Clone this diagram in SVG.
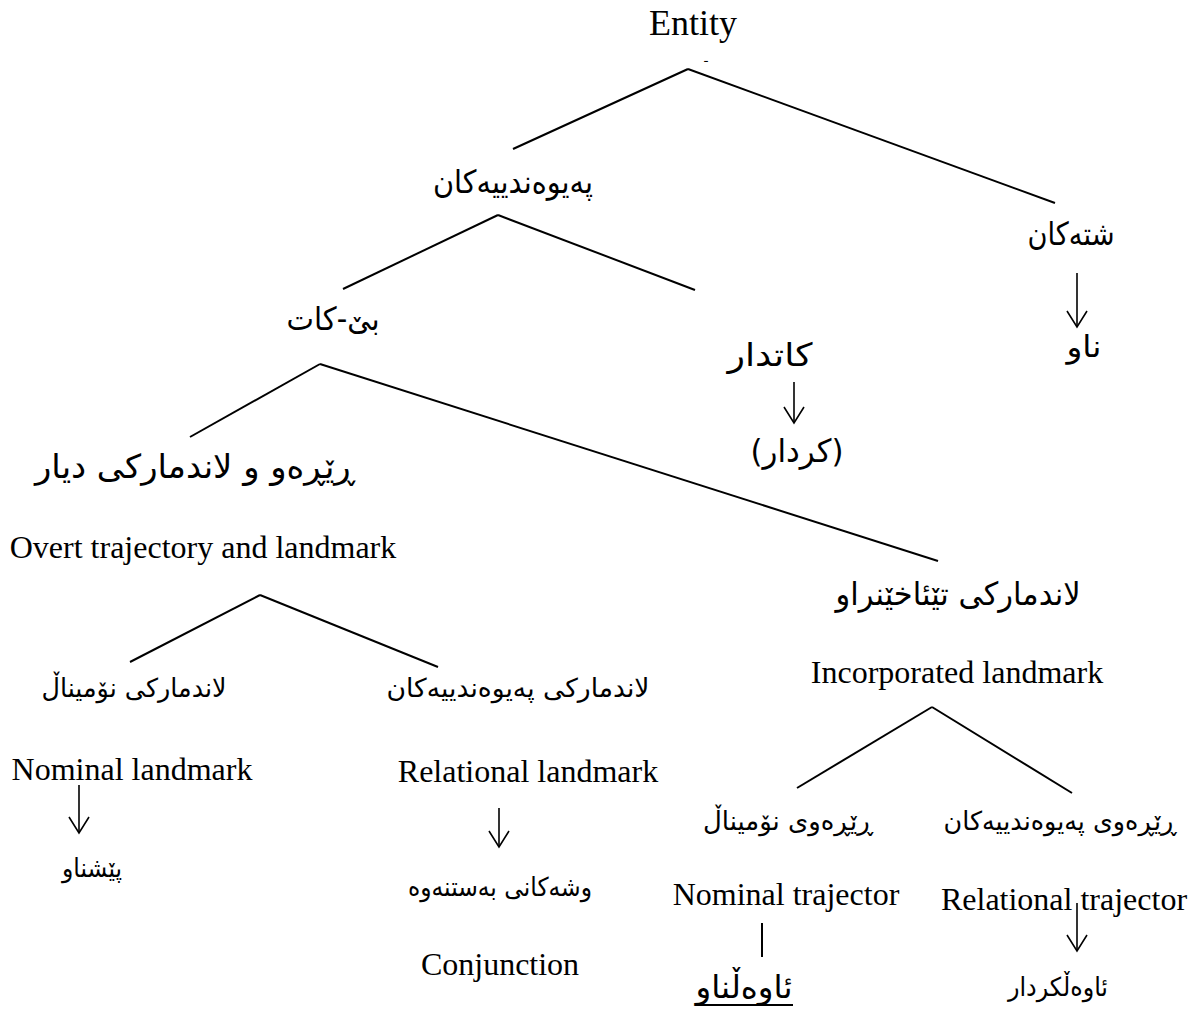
<svg xmlns="http://www.w3.org/2000/svg" width="1202" height="1014" viewBox="0 0 1202 1014">
<style>
.en{font-family:"Liberation Serif","Times New Roman",serif;font-size:32px;fill:#000;text-anchor:middle}
.ku{font-family:"DejaVu Sans","Noto Sans",sans-serif;fill:#000;text-anchor:middle}
.ln{stroke:#000;stroke-width:2;fill:none}
.ar{stroke:#000;stroke-width:1.6;fill:none;marker-end:url(#ah)}
</style>
<defs>
<marker id="ah" viewBox="-18 -12 20 24" markerWidth="20" markerHeight="24" refX="0" refY="0" orient="auto" markerUnits="userSpaceOnUse">
<path d="M-16,-10 L0,0 L-16,10" fill="none" stroke="#000" stroke-width="1.6"/>
</marker>
</defs>
<rect width="1202" height="1014" fill="#fff"/>
<g id="connectors">
<line class="ln" x1="688" y1="69" x2="513" y2="149"/>
<line class="ln" x1="688" y1="69" x2="1055" y2="203"/>
<line class="ln" x1="498" y1="215" x2="343" y2="289"/>
<line class="ln" x1="498" y1="215" x2="695" y2="290"/>
<line class="ln" x1="320" y1="364" x2="190" y2="437"/>
<line class="ln" x1="320" y1="364" x2="938" y2="561"/>
<line class="ln" x1="260" y1="595" x2="130" y2="662"/>
<line class="ln" x1="260" y1="595" x2="438" y2="667"/>
<line class="ln" x1="932" y1="707" x2="797" y2="788"/>
<line class="ln" x1="932" y1="707" x2="1072" y2="793"/>
<line class="ar" x1="1077" y1="273" x2="1077" y2="327"/>
<line class="ar" x1="794" y1="382" x2="794" y2="423"/>
<line class="ar" x1="79" y1="785" x2="79" y2="833"/>
<line class="ar" x1="499" y1="808" x2="499" y2="847"/>
<line class="ar" x1="1077" y1="903" x2="1077" y2="951"/>
<line class="ln" x1="762" y1="923" x2="762" y2="957" stroke-width="1.6"/>
</g>
<g id="entity">
<text class="en" x="693" y="35" font-size="36" style="font-size:36px">Entity</text>
<text class="ku" x="706" y="62" font-size="12">ـ</text>
</g>
<g id="relations"><text class="ku" x="513" y="193" font-size="32" textLength="160" lengthAdjust="spacingAndGlyphs">پەیوەندییەکان</text></g>
<g id="things"><text class="ku" x="1071" y="245" font-size="32" textLength="87" lengthAdjust="spacingAndGlyphs">شتەکان</text></g>
<g id="noun"><text class="ku" x="1084" y="357" font-size="30" textLength="35" lengthAdjust="spacingAndGlyphs">ناو</text></g>
<g id="atemporal"><text class="ku" x="333" y="330" font-size="32" textLength="93" lengthAdjust="spacingAndGlyphs">بێ-کات</text></g>
<g id="temporal"><text class="ku" x="770" y="366" font-size="32" textLength="85" lengthAdjust="spacingAndGlyphs">کاتدار</text></g>
<g id="verb"><text class="ku" x="797" y="462" font-size="32" textLength="93" lengthAdjust="spacingAndGlyphs">(کردار)</text></g>
<g id="overt">
<text class="ku" x="195" y="478" font-size="33" textLength="320" lengthAdjust="spacingAndGlyphs">ڕێڕەو و لاندمارکی دیار</text>
<text class="en" x="203" y="558">Overt trajectory and landmark</text>
</g>
<g id="incorporated">
<text class="ku" x="958" y="605" font-size="32" textLength="245" lengthAdjust="spacingAndGlyphs">لاندمارکی تێئاخێنراو</text>
<text class="en" x="957" y="683">Incorporated landmark</text>
</g>
<g id="nominal-landmark">
<text class="ku" x="134" y="697" font-size="26" textLength="185" lengthAdjust="spacingAndGlyphs">لاندمارکی نۆمیناڵ</text>
<text class="en" x="132" y="780">Nominal landmark</text>
</g>
<g id="preposition"><text class="ku" x="92" y="877" font-size="26" textLength="60" lengthAdjust="spacingAndGlyphs">پێشناو</text></g>
<g id="relational-landmark">
<text class="ku" x="518" y="697" font-size="26" textLength="263" lengthAdjust="spacingAndGlyphs">لاندمارکی پەیوەندییەکان</text>
<text class="en" x="528" y="782">Relational landmark</text>
</g>
<g id="conjunction">
<text class="ku" x="500" y="896" font-size="26" textLength="184" lengthAdjust="spacingAndGlyphs">وشەکانی بەستنەوە</text>
<text class="en" x="500" y="975">Conjunction</text>
</g>
<g id="nominal-trajector">
<text class="ku" x="788" y="830" font-size="26" textLength="170" lengthAdjust="spacingAndGlyphs">ڕێڕەوی نۆمیناڵ</text>
<text class="en" x="786" y="905">Nominal trajector</text>
</g>
<g id="relational-trajector">
<text class="ku" x="1060" y="830" font-size="26" textLength="233" lengthAdjust="spacingAndGlyphs">ڕێڕەوی پەیوەندییەکان</text>
<text class="en" x="1064" y="910">Relational trajector</text>
</g>
<g id="adjective">
<text class="ku" x="744" y="998" font-size="32" textLength="97" lengthAdjust="spacingAndGlyphs">ئاوەڵناو</text>
<line x1="695" y1="1005" x2="793" y2="1005" stroke="#000" stroke-width="2"/>
</g>
<g id="adverb"><text class="ku" x="1058" y="996" font-size="26" textLength="100" lengthAdjust="spacingAndGlyphs">ئاوەڵکردار</text></g>
</svg>
